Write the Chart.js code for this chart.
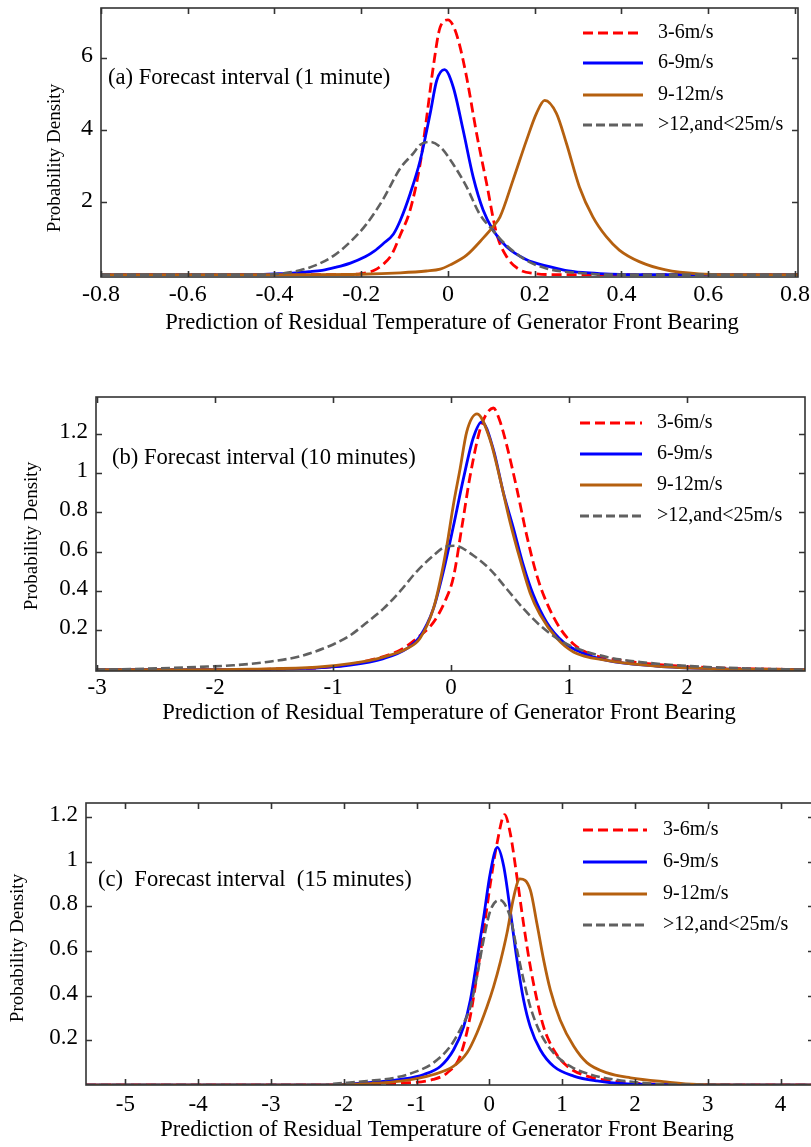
<!DOCTYPE html>
<html>
<head>
<meta charset="utf-8">
<script src="https://cdn.jsdelivr.net/npm/chart.js@4.4.1/dist/chart.umd.min.js"></script>
<style>
  html, body { margin: 0; padding: 0; background: #fff; overflow: hidden; }
  body { width: 811px; height: 1147px; position: relative; }
  canvas { position: absolute; left: 0; }
</style>
</head>
<body>
<canvas id="panelA" width="811" height="340" style="top:0px"></canvas>
<canvas id="panelB" width="811" height="350" style="top:380px"></canvas>
<canvas id="panelC" width="818" height="357" style="top:790px"></canvas>
<script>
var seriesNames = ["3-6m/s", "6-9m/s", "9-12m/s", ">12,and<25m/s"];
var seriesColors = ["#ff0000", "#0000ff", "#b5600f", "#606060"];
var seriesDash = [[10, 5], [], [], [9, 4]];

// (a) 1 minute
var xRedA = [-0.8, -0.23, -0.2, -0.17, -0.15, -0.13, -0.11, -0.087, -0.064, -0.049, -0.034, -0.018, 0.0, 0.012, 0.024, 0.043, 0.066, 0.089, 0.112, 0.135, 0.166, 0.2, 0.25, 0.807];
var yRedA = [0, 0, 0.03, 0.12, 0.28, 0.55, 1.1, 1.8, 3.08, 4.37, 5.75, 6.86, 7.06, 6.9, 6.49, 5.47, 3.91, 2.53, 1.14, 0.5, 0.13, 0.03, 0, 0];
var xBlueA = [-0.8, -0.45, -0.40, -0.36, -0.32, -0.29, -0.26, -0.225, -0.19, -0.17, -0.15, -0.126, -0.11, -0.087, -0.064, -0.041, -0.026, -0.008, 0.012, 0.035, 0.058, 0.081, 0.104, 0.135, 0.18, 0.234, 0.27, 0.31, 0.35, 0.43, 0.807];
var yBlueA = [0, 0, 0.02, 0.04, 0.08, 0.12, 0.2, 0.32, 0.5, 0.65, 0.85, 1.12, 1.5, 2.25, 3.17, 4.47, 5.38, 5.68, 5.2, 4.0, 2.71, 1.79, 1.23, 0.77, 0.42, 0.22, 0.12, 0.06, 0.03, 0, 0];
var xBrownA = [-0.8, -0.3, -0.2, -0.11, -0.05, -0.018, 0.005, 0.043, 0.081, 0.104, 0.12, 0.15, 0.181, 0.204, 0.223, 0.25, 0.273, 0.303, 0.334, 0.365, 0.395, 0.441, 0.502, 0.579, 0.65, 0.807];
var yBrownA = [0, 0, 0.01, 0.05, 0.1, 0.15, 0.27, 0.54, 1.01, 1.33, 1.6, 2.62, 3.72, 4.47, 4.83, 4.47, 3.64, 2.43, 1.6, 1.05, 0.68, 0.36, 0.13, 0.02, 0, 0];
var xGrayA = [-0.8, -0.43, -0.379, -0.341, -0.303, -0.264, -0.226, -0.188, -0.149, -0.11, -0.08, -0.064, -0.041, -0.018, 0.011, 0.043, 0.072, 0.103, 0.134, 0.18, 0.227, 0.27, 0.31, 0.36, 0.807];
var yGrayA = [0, 0, 0.04, 0.12, 0.27, 0.52, 0.9, 1.4, 2.1, 2.95, 3.36, 3.6, 3.68, 3.54, 3.08, 2.43, 1.7, 1.23, 0.82, 0.4, 0.17, 0.08, 0.04, 0, 0];
var xTicksA = [-0.8, -0.6, -0.4, -0.2, 0, 0.2, 0.4, 0.6, 0.8];
var xLabelsA = ["-0.8", "-0.6", "-0.4", "-0.2", "0", "0.2", "0.4", "0.6", "0.8"];
var yTicksA = [2, 4, 6];
var yLabelsA = ["2", "4", "6"];

// (b) 10 minutes
var xRedB = [-3.01, -2, -1.5, -1.0, -0.71, -0.43, -0.29, -0.15, -0.05, 0.02, 0.09, 0.16, 0.245, 0.3, 0.358, 0.41, 0.472, 0.557, 0.642, 0.726, 0.811, 0.924, 1.037, 1.178, 1.46, 1.88, 2.3, 3.0];
var yRedB = [0, 0, 0.003, 0.015, 0.045, 0.1, 0.16, 0.24, 0.35, 0.47, 0.72, 0.98, 1.22, 1.30, 1.33, 1.27, 1.14, 0.92, 0.68, 0.48, 0.34, 0.21, 0.13, 0.08, 0.045, 0.02, 0.008, 0];
var xBlueB = [-3.01, -2, -1.28, -0.856, -0.573, -0.375, -0.263, -0.15, -0.065, 0.02, 0.104, 0.189, 0.26, 0.358, 0.443, 0.528, 0.613, 0.697, 0.811, 0.952, 1.093, 1.32, 1.74, 2.2, 3.0];
var yBlueB = [0, 0, 0.005, 0.023, 0.056, 0.107, 0.17, 0.31, 0.5, 0.73, 0.97, 1.18, 1.26, 1.12, 0.9, 0.72, 0.53, 0.38, 0.24, 0.14, 0.09, 0.047, 0.018, 0.005, 0];
var xBrownB = [-3.01, -2.2, -1.7, -1.14, -0.856, -0.573, -0.375, -0.263, -0.15, -0.093, -0.036, 0.02, 0.076, 0.133, 0.22, 0.33, 0.415, 0.5, 0.585, 0.67, 0.754, 0.895, 1.037, 1.32, 1.74, 2.2, 3.0];
var yBrownB = [0, 0, 0.003, 0.012, 0.03, 0.064, 0.107, 0.16, 0.31, 0.45, 0.63, 0.84, 1.02, 1.21, 1.30, 1.17, 0.97, 0.75, 0.56, 0.39, 0.28, 0.16, 0.09, 0.047, 0.018, 0.005, 0];
var xGrayB = [-3.01, -2.69, -2.13, -1.845, -1.56, -1.28, -1.0, -0.856, -0.714, -0.573, -0.43, -0.29, -0.15, -0.065, 0.03, 0.189, 0.33, 0.472, 0.613, 0.754, 0.895, 1.037, 1.32, 1.6, 2.03, 2.45, 3.0];
var yGrayB = [0, 0.003, 0.014, 0.022, 0.039, 0.068, 0.128, 0.174, 0.24, 0.31, 0.40, 0.50, 0.58, 0.62, 0.63, 0.58, 0.51, 0.41, 0.31, 0.225, 0.16, 0.115, 0.064, 0.039, 0.018, 0.007, 0];
var xTicksB = [-3, -2, -1, 0, 1, 2];
var xLabelsB = ["-3", "-2", "-1", "0", "1", "2"];
var yTicksB = [0.2, 0.4, 0.6, 0.8, 1, 1.2];
var yLabelsB = ["0.2", "0.4", "0.6", "0.8", "1", "1.2"];

// (c) 15 minutes
var xRedC = [-5.54, -2.2, -1.7, -1.22, -0.77, -0.58, -0.4, -0.26, -0.17, -0.078, 0.014, 0.105, 0.21, 0.288, 0.38, 0.471, 0.563, 0.655, 0.746, 0.883, 1.07, 1.34, 1.71, 2.2, 4.46];
var yRedC = [0, 0, 0.003, 0.008, 0.025, 0.054, 0.13, 0.31, 0.49, 0.69, 0.9, 1.08, 1.21, 1.126, 0.93, 0.72, 0.53, 0.38, 0.26, 0.158, 0.084, 0.04, 0.017, 0.005, 0];
var xBlueC = [-5.54, -2.2, -1.68, -1.22, -0.9, -0.67, -0.49, -0.353, -0.26, -0.17, -0.078, 0.014, 0.11, 0.197, 0.288, 0.38, 0.471, 0.563, 0.7, 0.883, 1.16, 1.48, 1.9, 4.46];
var yBlueC = [0, 0, 0.01, 0.025, 0.047, 0.084, 0.158, 0.26, 0.38, 0.56, 0.75, 0.95, 1.063, 0.98, 0.78, 0.56, 0.38, 0.26, 0.158, 0.084, 0.04, 0.018, 0.005, 0];
var xBrownC = [-5.54, -2.3, -1.68, -1.22, -0.765, -0.49, -0.306, -0.17, -0.032, 0.059, 0.151, 0.243, 0.334, 0.42, 0.563, 0.655, 0.746, 0.838, 0.975, 1.16, 1.34, 1.62, 1.94, 2.39, 2.85, 4.46];
var yBrownC = [0, 0, 0.006, 0.017, 0.047, 0.084, 0.144, 0.233, 0.35, 0.44, 0.55, 0.68, 0.84, 0.922, 0.873, 0.72, 0.56, 0.426, 0.29, 0.173, 0.1, 0.054, 0.032, 0.015, 0.003, 0];
var xGrayC = [-5.54, -2.3, -2.14, -1.68, -1.31, -0.99, -0.765, -0.536, -0.4, -0.26, -0.17, -0.078, 0.014, 0.14, 0.288, 0.38, 0.471, 0.563, 0.7, 0.883, 1.11, 1.387, 1.71, 2.17, 2.6, 4.46];
var yGrayC = [0, 0, 0.005, 0.018, 0.032, 0.062, 0.1, 0.173, 0.248, 0.35, 0.486, 0.65, 0.78, 0.828, 0.75, 0.605, 0.47, 0.35, 0.233, 0.144, 0.084, 0.047, 0.025, 0.008, 0.002, 0];
var xTicksC = [-5, -4, -3, -2, -1, 0, 1, 2, 3, 4];
var xLabelsC = ["-5", "-4", "-3", "-2", "-1", "0", "1", "2", "3", "4"];
var yTicksC = [0.2, 0.4, 0.6, 0.8, 1, 1.2];
var yLabelsC = ["0.2", "0.4", "0.6", "0.8", "1", "1.2"];

var xTitle = "Prediction of Residual Temperature of Generator Front Bearing";
var yTitle = "Probability Density";
var serif = "'Liberation Serif', 'Times New Roman', serif";

function toPoints(xs, ys) {
  return xs.map(function (x, i) { return { x: x, y: ys[i] }; });
}

// box, inward ticks on all four sides, labels, caption and legend
var panelFrame = {
  id: "panelFrame",
  afterDraw: function (chart, args, o) {
    var ctx = chart.ctx, a = chart.chartArea;
    var sx = chart.scales.x, sy = chart.scales.y;
    ctx.save();
    ctx.strokeStyle = "#333";
    ctx.lineWidth = 1.6;
    ctx.strokeRect(a.left, a.top, a.right - a.left, a.bottom - a.top);
    ctx.beginPath();
    o.xTicks.forEach(function (v) {
      var px = Math.round(sx.getPixelForValue(v)) + 0.5;
      ctx.moveTo(px, a.bottom); ctx.lineTo(px, a.bottom - 6);
      ctx.moveTo(px, a.top); ctx.lineTo(px, a.top + 6);
    });
    o.yTicks.forEach(function (v) {
      var py = Math.round(sy.getPixelForValue(v)) + 0.5;
      ctx.moveTo(a.left, py); ctx.lineTo(a.left + 6, py);
      ctx.moveTo(a.right, py); ctx.lineTo(a.right - 6, py);
    });
    ctx.stroke();

    ctx.fillStyle = "#000";
    ctx.font = o.tickFont + "px " + serif;
    ctx.textAlign = "center";
    ctx.textBaseline = "middle";
    o.xTicks.forEach(function (v, i) {
      ctx.fillText(o.xLabels[i], sx.getPixelForValue(v), a.bottom + o.xLabelGap);
    });
    ctx.textAlign = "right";
    o.yTicks.forEach(function (v, i) {
      ctx.fillText(o.yLabels[i], a.left - 8, sy.getPixelForValue(v) - 2);
    });

    ctx.textAlign = "center";
    ctx.font = o.titleFont + "px " + serif;
    ctx.fillText(xTitle, o.xTitleX, o.xTitleY);
    ctx.save();
    ctx.translate(o.yTitleX, o.yTitleY);
    ctx.rotate(-Math.PI / 2);
    ctx.font = "19px " + serif;
    ctx.fillText(yTitle, 0, 0);
    ctx.restore();

    ctx.textAlign = "left";
    ctx.font = "22.6px " + serif;
    ctx.fillText(o.caption, o.captionX, o.captionY);

    ctx.font = "20px " + serif;
    chart.data.datasets.forEach(function (ds, i) {
      var ry = o.legendY[i];
      ctx.beginPath();
      ctx.strokeStyle = ds.borderColor;
      ctx.lineWidth = 3;
      ctx.setLineDash(ds.borderDash);
      ctx.moveTo(o.legendX0, ry); ctx.lineTo(o.legendX1, ry);
      ctx.stroke();
      ctx.setLineDash([]);
      ctx.fillText(ds.label, o.legendTextX, ry);
    });
    ctx.restore();
  }
};

function createPanel(id, xsList, ysList, xRange, yRange, pad, frame) {
  var datasets = xsList.map(function (xs, i) {
    return {
      label: seriesNames[i],
      data: toPoints(xs, ysList[i]),
      borderColor: seriesColors[i],
      borderDash: seriesDash[i],
      borderWidth: i === 3 ? 2.6 : 2.8,
      pointRadius: 0,
      fill: false,
      cubicInterpolationMode: "monotone"
    };
  });
  // draw grey first so the coloured curves stay on top of it
  datasets = [datasets[3], datasets[2], datasets[1], datasets[0]];
  var legendOrder = [3, 2, 1, 0];
  frame.legendY = legendOrder.map(function (k) { return frame.rows[k]; });
  new Chart(document.getElementById(id), {
    type: "line",
    data: { datasets: datasets },
    options: {
      responsive: false,
      animation: false,
      layout: { padding: pad },
      scales: {
        x: { type: "linear", min: xRange[0], max: xRange[1], display: false },
        y: { type: "linear", min: yRange[0], max: yRange[1], display: false }
      },
      plugins: {
        legend: { display: false },
        tooltip: { enabled: false },
        panelFrame: frame
      }
    },
    plugins: [panelFrame]
  });
}

createPanel("panelA",
  [xRedA, xBlueA, xBrownA, xGrayA], [yRedA, yBlueA, yBrownA, yGrayA],
  [-0.8, 0.807], [-0.066, 7.39],
  { left: 101, top: 8, right: 13, bottom: 63 },
  {
    xTicks: xTicksA, xLabels: xLabelsA, yTicks: yTicksA, yLabels: yLabelsA,
    tickFont: 24, titleFont: 22.6, xLabelGap: 18,
    xTitleX: 452, xTitleY: 323, yTitleX: 55, yTitleY: 158,
    caption: "(a) Forecast interval (1 minute)", captionX: 108, captionY: 78,
    legendX0: 583, legendX1: 643, legendTextX: 658, rows: [33, 63, 95, 125]
  });

createPanel("panelB",
  [xRedB, xBlueB, xBrownB, xGrayB], [yRedB, yBlueB, yBrownB, yGrayB],
  [-3.01, 3.0], [-0.007, 1.386],
  { left: 96, top: 17, right: 6, bottom: 59 },
  {
    xTicks: xTicksB, xLabels: xLabelsB, yTicks: yTicksB, yLabels: yLabelsB,
    tickFont: 23, titleFont: 22.6, xLabelGap: 17,
    xTitleX: 449, xTitleY: 333, yTitleX: 32, yTitleY: 156,
    caption: "(b) Forecast interval (10 minutes)", captionX: 112, captionY: 78,
    legendX0: 580, legendX1: 642, legendTextX: 657, rows: [43, 74, 105, 136]
  });

createPanel("panelC",
  [xRedC, xBlueC, xBrownC, xGrayC], [yRedC, yBlueC, yBrownC, yGrayC],
  [-5.54, 4.46], [0, 1.262],
  { left: 86, top: 13, right: 4, bottom: 62 },
  {
    xTicks: xTicksC, xLabels: xLabelsC, yTicks: yTicksC, yLabels: yLabelsC,
    tickFont: 23, titleFont: 22.6, xLabelGap: 20,
    xTitleX: 447, xTitleY: 340, yTitleX: 18, yTitleY: 158,
    caption: "(c)  Forecast interval  (15 minutes)", captionX: 98, captionY: 90,
    legendX0: 583, legendX1: 647, legendTextX: 663, rows: [40, 72, 104, 135]
  });
</script>
</body>
</html>
